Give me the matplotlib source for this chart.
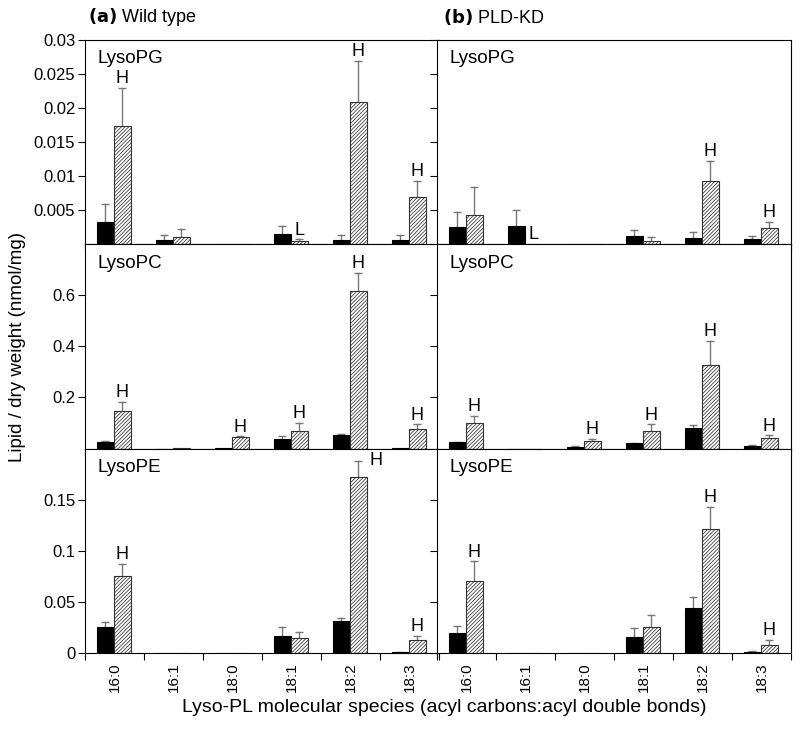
import numpy as np
import matplotlib
matplotlib.use("Agg")
import matplotlib.pyplot as plt

plt.rcParams["font.family"] = ["Liberation Sans", "DejaVu Sans"]
plt.rcParams["hatch.linewidth"] = 0.55

species = ["16:0", "16:1", "18:0", "18:1", "18:2", "18:3"]
lipids = ["LysoPG", "LysoPC", "LysoPE"]

# wild type, black = control, hatched = treated
wt_pg_ctrl = [0.0032, 0.0006, 0, 0.0015, 0.0006, 0.0006]
wt_pg_ctrl_sd = [0.0026, 0.0007, 0, 0.0011, 0.0007, 0.0007]
wt_pg_trt = [0.0173, 0.0011, 0, 0.0005, 0.0208, 0.0069]
wt_pg_trt_sd = [0.0056, 0.0011, 0, 0.0002, 0.0061, 0.0024]
wt_pg_sig = ["H", "", "", "L", "H", "H"]

wt_pc_ctrl = [0.025, 0, 0.002, 0.037, 0.054, 0.002]
wt_pc_ctrl_sd = [0.005, 0, 0, 0.013, 0.004, 0]
wt_pc_trt = [0.148, 0.003, 0.046, 0.068, 0.616, 0.075]
wt_pc_trt_sd = [0.035, 0, 0.002, 0.032, 0.072, 0.020]
wt_pc_sig = ["H", "", "H", "H", "H", "H"]

wt_pe_ctrl = [0.0252, 0, 0, 0.0164, 0.0311, 0.0008]
wt_pe_ctrl_sd = [0.0049, 0, 0, 0.0091, 0.0033, 0.0004]
wt_pe_trt = [0.0756, 0, 0, 0.0144, 0.1726, 0.0124]
wt_pe_trt_sd = [0.0115, 0, 0, 0.0059, 0.0154, 0.0043]
wt_pe_sig = ["H", "", "", "", "H", "H"]

# PLD-KD
kd_pg_ctrl = [0.0025, 0.0027, 0, 0.0012, 0.0009, 0.0007]
kd_pg_ctrl_sd = [0.0022, 0.0023, 0, 0.0009, 0.0009, 0.0005]
kd_pg_trt = [0.0042, 0, 0, 0.0004, 0.0093, 0.0024]
kd_pg_trt_sd = [0.0041, 0, 0, 0.0006, 0.0029, 0.0008]
kd_pg_sig = ["", "L", "", "", "H", "H"]

kd_pc_ctrl = [0.0235, 0, 0.005, 0.021, 0.080, 0.008]
kd_pc_ctrl_sd = [0.0035, 0, 0.003, 0.001, 0.0115, 0.004]
kd_pc_trt = [0.099, 0, 0.029, 0.068, 0.327, 0.0405]
kd_pc_trt_sd = [0.028, 0, 0.008, 0.027, 0.093, 0.0115]
kd_pc_sig = ["H", "", "H", "H", "H", "H"]

kd_pe_ctrl = [0.020, 0, 0, 0.016, 0.0436, 0.0013]
kd_pe_ctrl_sd = [0.0062, 0, 0, 0.0082, 0.0108, 0.0007]
kd_pe_trt = [0.070, 0, 0, 0.0259, 0.121, 0.0082]
kd_pe_trt_sd = [0.0197, 0, 0, 0.0111, 0.022, 0.0049]
kd_pe_sig = ["H", "", "", "", "H", "H"]

row_ylim = [0.03, 0.8, 0.2]
row_ticks = [[0.005, 0.01, 0.015, 0.02, 0.025, 0.03],
             [0.2, 0.4, 0.6],
             [0, 0.05, 0.1, 0.15]]
row_ticklabels = [["0.005", "0.01", "0.015", "0.02", "0.025", "0.03"],
                  ["0.2", "0.4", "0.6"],
                  ["0", "0.05", "0.1", "0.15"]]

panels = [
    [(wt_pg_ctrl, wt_pg_ctrl_sd, wt_pg_trt, wt_pg_trt_sd, wt_pg_sig),
     (kd_pg_ctrl, kd_pg_ctrl_sd, kd_pg_trt, kd_pg_trt_sd, kd_pg_sig)],
    [(wt_pc_ctrl, wt_pc_ctrl_sd, wt_pc_trt, wt_pc_trt_sd, wt_pc_sig),
     (kd_pc_ctrl, kd_pc_ctrl_sd, kd_pc_trt, kd_pc_trt_sd, kd_pc_sig)],
    [(wt_pe_ctrl, wt_pe_ctrl_sd, wt_pe_trt, wt_pe_trt_sd, wt_pe_sig),
     (kd_pe_ctrl, kd_pe_ctrl_sd, kd_pe_trt, kd_pe_trt_sd, kd_pe_sig)],
]

fig = plt.figure(figsize=(8, 7.32), dpi=100)

lefts = [85 / 800, 437 / 800]
w = 354 / 800
row_h = 204.5 / 732
bottom0 = 1 - 653 / 732

x = np.arange(len(species))
bw = 0.29
err_col = "#777777"


def draw_errors(ax, xs, vals, sds):
    for xi, v, s in zip(xs, vals, sds):
        if s > 0:
            ax.plot([xi, xi], [v, v + s], color=err_col, lw=1, zorder=1)
            ax.plot([xi], [v + s], marker="_", ms=6, mew=1, color=err_col, zorder=1)


for r in range(3):
    for c in range(2):
        ctrl, ctrl_sd, trt, trt_sd, sig = panels[r][c]
        ax = fig.add_axes([lefts[c], bottom0 + (2 - r) * row_h, w, row_h])
        xc = x - 0.5 + 0.2 + bw / 2
        xt = xc + bw
        draw_errors(ax, xc, ctrl, ctrl_sd)
        draw_errors(ax, xt, trt, trt_sd)
        ax.bar(xc, ctrl, bw, color="black", edgecolor="black", lw=0.8, zorder=2)
        ax.bar(xt, trt, bw, color="white", edgecolor="#333333", hatch="/////////",
               lw=0.8, zorder=2)
        ymax = row_ylim[r]
        for xi, v, s, lab in zip(xt, trt, trt_sd, sig):
            if not lab:
                continue
            top = v + s
            if top > 0.9 * ymax:
                ax.annotate(lab, (xi, top), xytext=(8, 0), textcoords="offset points",
                            ha="left", va="center", fontsize=13)
            else:
                ax.annotate(lab, (xi, top), xytext=(0, 0.5), textcoords="offset points",
                            ha="center", va="bottom", fontsize=13)
        ax.set_xlim(-0.5, 5.5)
        ax.set_ylim(0, ymax)
        ax.set_xticks(np.arange(-0.5, 6, 1))
        ax.set_xticklabels([])
        ax.set_xticks(x, minor=True)
        if r == 2:
            ax.set_xticklabels(species, minor=True, rotation=90, fontsize=11)
        ax.tick_params(axis="x", which="minor", length=0, pad=7)
        ax.tick_params(axis="x", which="major", length=5, direction="out")
        ax.set_yticks(row_ticks[r])
        if c == 0:
            ax.set_yticklabels(row_ticklabels[r], fontsize=12)
        else:
            ax.set_yticklabels([])
        ax.tick_params(axis="y", length=5, direction="out", pad=2)
        ax.text(0.035, 0.905, lipids[r], transform=ax.transAxes, fontsize=13.5,
                ha="left", va="center")

fig.text(88 / 800, 1 - 17 / 732, r"$\bf{(a)}$ Wild type", fontsize=13, va="center")
fig.text(443 / 800, 1 - 17 / 732, r"$\bf{(b)}$ PLD-KD", fontsize=13, va="center")
fig.text(18 / 800, 1 - 347 / 732, "Lipid / dry weight (nmol/mg)", rotation=90,
         fontsize=13.5, ha="center", va="center")
fig.text(444 / 800, 1 - 707 / 732,
         "Lyso-PL molecular species (acyl carbons:acyl double bonds)",
         fontsize=14, ha="center", va="center")

fig.savefig("out.png", dpi=100)
